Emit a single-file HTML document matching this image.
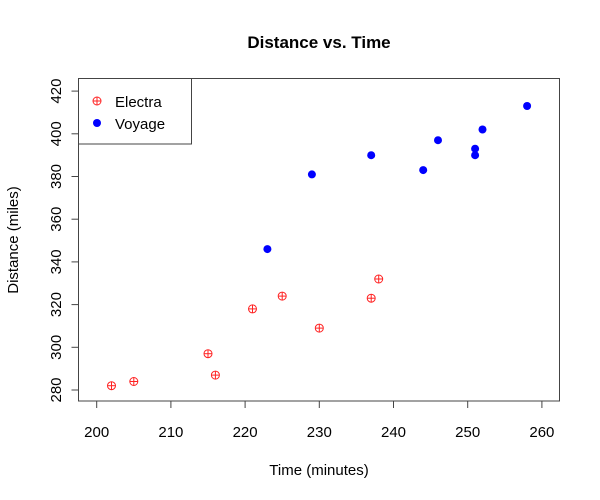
<!DOCTYPE html>
<html><head><style>body{margin:0;background:#fff}svg{display:block}text{font-family:"Liberation Sans",Arial,sans-serif}</style></head><body>
<svg width="600" height="500" xmlns="http://www.w3.org/2000/svg">
<text x="319" y="48" font-size="17" font-weight="bold" text-anchor="middle">Distance vs. Time</text>
<rect x="78.5" y="78.5" width="481" height="322.5" fill="none" stroke="#444" stroke-width="1"/>
<g stroke="#444" stroke-width="1">
<line x1="96.7" y1="401" x2="541.9" y2="401"/>
<line x1="96.7" y1="401" x2="96.7" y2="408"/><line x1="170.9" y1="401" x2="170.9" y2="408"/><line x1="245.1" y1="401" x2="245.1" y2="408"/><line x1="319.3" y1="401" x2="319.3" y2="408"/><line x1="393.5" y1="401" x2="393.5" y2="408"/><line x1="467.7" y1="401" x2="467.7" y2="408"/><line x1="541.9" y1="401" x2="541.9" y2="408"/>
<line x1="78.5" y1="91.1" x2="78.5" y2="390"/>
<line x1="71.5" y1="390" x2="78.5" y2="390"/><line x1="71.5" y1="347.3" x2="78.5" y2="347.3"/><line x1="71.5" y1="304.6" x2="78.5" y2="304.6"/><line x1="71.5" y1="261.9" x2="78.5" y2="261.9"/><line x1="71.5" y1="219.2" x2="78.5" y2="219.2"/><line x1="71.5" y1="176.5" x2="78.5" y2="176.5"/><line x1="71.5" y1="133.8" x2="78.5" y2="133.8"/><line x1="71.5" y1="91.1" x2="78.5" y2="91.1"/>
</g>
<g font-size="15" text-anchor="middle">
<text x="96.7" y="437">200</text><text x="170.9" y="437">210</text><text x="245.1" y="437">220</text><text x="319.3" y="437">230</text><text x="393.5" y="437">240</text><text x="467.7" y="437">250</text><text x="541.9" y="437">260</text>
<text transform="translate(61,390) rotate(-90)">280</text><text transform="translate(61,347.3) rotate(-90)">300</text><text transform="translate(61,304.6) rotate(-90)">320</text><text transform="translate(61,261.9) rotate(-90)">340</text><text transform="translate(61,219.2) rotate(-90)">360</text><text transform="translate(61,176.5) rotate(-90)">380</text><text transform="translate(61,133.8) rotate(-90)">400</text><text transform="translate(61,91.1) rotate(-90)">420</text>
<text x="319" y="475">Time (minutes)</text>
<text transform="translate(18,240) rotate(-90)">Distance (miles)</text>
</g>
<defs><g id="e" stroke="#f22" stroke-width="1" fill="none"><circle r="4"/><line x1="-4" y1="0" x2="4" y2="0"/><line x1="0" y1="-4" x2="0" y2="4"/></g></defs>
<use href="#e" x="111.5" y="385.7"/><use href="#e" x="133.8" y="381.5"/><use href="#e" x="208" y="353.7"/><use href="#e" x="215.4" y="375.1"/><use href="#e" x="252.5" y="308.9"/><use href="#e" x="282.2" y="296.1"/><use href="#e" x="319.3" y="328.1"/><use href="#e" x="371.2" y="298.2"/><use href="#e" x="378.7" y="279"/>
<g fill="#00f">
<circle cx="267.4" cy="249.1" r="4"/><circle cx="311.9" cy="174.4" r="4"/><circle cx="371.2" cy="155.2" r="4"/><circle cx="423.2" cy="170.1" r="4"/><circle cx="438" cy="140.2" r="4"/><circle cx="475.1" cy="148.7" r="4"/><circle cx="475.1" cy="155.2" r="4"/><circle cx="482.5" cy="129.5" r="4"/><circle cx="527.1" cy="106" r="4"/>
</g>
<rect x="78.5" y="78.5" width="113" height="65.5" fill="#fff" stroke="#444"/>
<use href="#e" x="97" y="101"/>
<circle cx="97" cy="123" r="4" fill="#00f"/>
<text x="115" y="107" font-size="15">Electra</text>
<text x="115" y="129" font-size="15">Voyage</text>
</svg>
</body></html>
